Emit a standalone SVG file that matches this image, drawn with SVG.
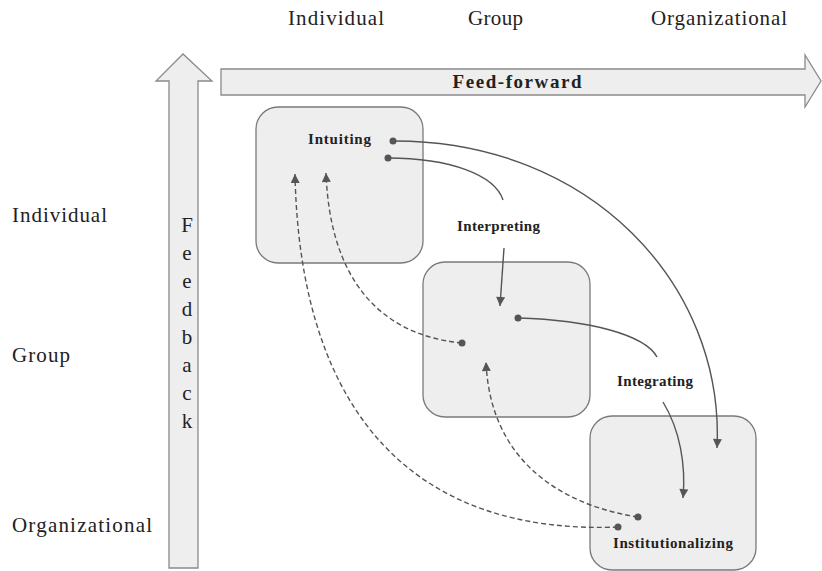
<svg xmlns="http://www.w3.org/2000/svg" width="822" height="571" viewBox="0 0 822 571">
<style>
.bg{fill:#ffffff}
.big{fill:#eeeeee;stroke:#8a8a8a;stroke-width:1.3}
.box{fill:#eeeeee;stroke:#7a7a7a;stroke-width:1.3}
.axis{font-family:"Liberation Serif",serif;font-size:21px;fill:#222}
.node{font-family:"Liberation Serif",serif;font-size:15px;font-weight:bold;fill:#222}
.ff{font-family:"Liberation Serif",serif;font-size:19px;font-weight:bold;fill:#222}
.fb{font-family:"Liberation Serif",serif;font-size:21px;fill:#222;text-anchor:middle}
.solid{fill:none;stroke:#555;stroke-width:1.4}
.dash{fill:none;stroke:#555;stroke-width:1.4;stroke-dasharray:5 3}
.dot{fill:#555}
</style>
<defs>
<marker id="ah" viewBox="0 0 10 10" refX="10" refY="5" markerWidth="11" markerHeight="9" markerUnits="userSpaceOnUse" orient="auto">
<path d="M0,0 L10,5 L0,10 z" fill="#555"/>
</marker>
</defs>
<rect class="bg" x="0" y="0" width="822" height="571"/>

<g id="axis-labels">
<text class="axis" x="288" y="25" textLength="96" lengthAdjust="spacing">Individual</text>
<text class="axis" x="468" y="25" textLength="55" lengthAdjust="spacing">Group</text>
<text class="axis" x="651" y="25" textLength="136" lengthAdjust="spacing">Organizational</text>
<text class="axis" x="12" y="222" textLength="95" lengthAdjust="spacing">Individual</text>
<text class="axis" x="12" y="362" textLength="58" lengthAdjust="spacing">Group</text>
<text class="axis" x="12" y="532" textLength="140" lengthAdjust="spacing">Organizational</text>
</g>

<g id="feedback">
<polygon class="big" points="169,568 169,81 156,81 183,54 212,81 198,81 198,568"/>
<text class="fb" x="187" y="232">F</text>
<text class="fb" x="187" y="260">e</text>
<text class="fb" x="187" y="288">e</text>
<text class="fb" x="187" y="316">d</text>
<text class="fb" x="187" y="344">b</text>
<text class="fb" x="187" y="372">a</text>
<text class="fb" x="187" y="400">c</text>
<text class="fb" x="187" y="428">k</text>
</g>

<g id="feed-forward">
<polygon class="big" points="221,69 805,69 805,55 821,81 805,107 805,95 221,95"/>
<text class="ff" x="517" y="88" text-anchor="middle" textLength="129" lengthAdjust="spacing">Feed-forward</text>
</g>

<g id="intuiting">
<rect class="box" x="256" y="107" width="167" height="156" rx="22"/>
<text class="node" x="308" y="144" textLength="63" lengthAdjust="spacing">Intuiting</text>
</g>

<g id="group-box">
<rect class="box" x="423" y="262" width="167" height="155" rx="22"/>
</g>

<g id="institutionalizing">
<rect class="box" x="590" y="416" width="166" height="154" rx="22"/>
<text class="node" x="613" y="548" textLength="120" lengthAdjust="spacing">Institutionalizing</text>
</g>

<g id="interpreting">
<text class="node" x="457" y="231" textLength="83" lengthAdjust="spacing">Interpreting</text>
</g>

<g id="integrating">
<text class="node" x="617" y="386" textLength="76" lengthAdjust="spacing">Integrating</text>
</g>

<g id="connectors">
<path class="solid" d="M393,141 C590,140 725,285 717,448" marker-end="url(#ah)"/>
<path class="solid" d="M388,158 C450,158 495,175 503,200"/>
<path class="solid" d="M504,248 L500,306" marker-end="url(#ah)"/>
<path class="solid" d="M518,318 C590,320 645,335 657,357"/>
<path class="solid" d="M663,402 C680,430 686,465 683,498" marker-end="url(#ah)"/>
<path class="dash" d="M618,527 C420,535 300,420 295,174" marker-end="url(#ah)"/>
<path class="dash" d="M462,343 C380,335 330,280 326,173" marker-end="url(#ah)"/>
<path class="dash" d="M638,517 C560,505 490,460 486,362" marker-end="url(#ah)"/>
<circle class="dot" cx="393" cy="141" r="3.5"/>
<circle class="dot" cx="388" cy="158" r="3.5"/>
<circle class="dot" cx="518" cy="318" r="3.5"/>
<circle class="dot" cx="462" cy="343" r="3.5"/>
<circle class="dot" cx="638" cy="517" r="3.5"/>
<circle class="dot" cx="618" cy="527" r="3.5"/>
</g>
</svg>
